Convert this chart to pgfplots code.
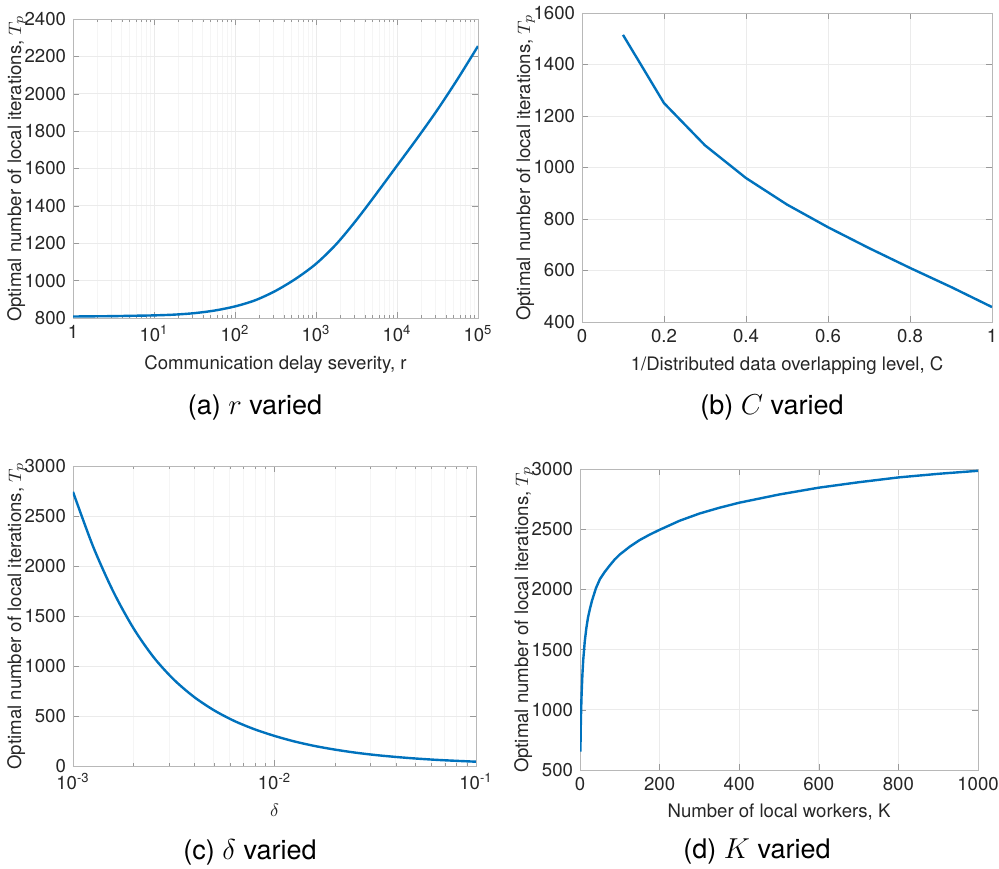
\documentclass[border=0pt]{standalone}
\usepackage{pgfplots}
\pgfplotsset{compat=1.18}
\usepackage{fontspec}
\setmainfont{TeX Gyre Heros}
\definecolor{mblue}{RGB}{0,114,189}
\definecolor{tickgray}{RGB}{38,38,38}

\pgfplotsset{
  mstyle/.style={
    scale only axis,
    axis line style={black!28},
    tick style={black!40},
    tick align=inside,
    major tick length=3pt,
    minor tick length=1.6pt,
    grid=major,
    major grid style={black!8},
    minor grid style={black!4},
    ticklabel style={font=\fontsize{9.3}{11}\selectfont, text=tickgray},
    label style={font=\fontsize{9.3}{11}\selectfont, text=tickgray},
    /pgf/number format/assume math mode=true,
    /pgf/number format/set thousands separator={},
    ylabel={Optimal number of local iterations, $T_p$},
    ylabel shift=-7.5pt,
  },
  curve/.style={mblue, line width=1.2pt, no marks},
}

\begin{document}
\begin{tikzpicture}
\path[use as bounding box] (0,0) rectangle (499.5pt,434pt);

% (a) r varied
\begin{axis}[mstyle,
  at={(36.5pt,275pt)}, anchor=south west,
  width=202.5pt, height=149.5pt,
  xmode=log, xmin=1, xmax=1e5,
  ymin=800, ymax=2400, ytick={800,1000,...,2400},
  xtick={1,10,100,1000,10000,100000},
  xticklabels={1,10\textsuperscript{1},10\textsuperscript{2},10\textsuperscript{3},10\textsuperscript{4},10\textsuperscript{5}},
  xminorgrids=true,
  xlabel={Communication delay severity, r},
]
\addplot[curve, smooth] coordinates {
(1,808) (1.778,809) (3.162,810) (5.623,812) (10,814) (17.78,818) (31.62,826)
(56.23,840) (100,862) (177.8,895) (316.2,945) (562.3,1010) (1000,1090)
(1778,1195) (3162,1325) (5623,1468) (10000,1615) (17783,1762) (31623,1915)
(56234,2080) (100000,2255)};
\end{axis}

% (b) C varied
\begin{axis}[mstyle,
  at={(291pt,273pt)}, anchor=south west,
  width=205pt, height=154.5pt,
  xmin=0, xmax=1, xtick={0,0.2,...,1},
  ymin=400, ymax=1600, ytick={400,600,...,1600},
  xlabel={1/Distributed data overlapping level, C},
]
\addplot[curve] coordinates {
(0.1,1515) (0.2,1250) (0.3,1086) (0.4,959) (0.5,856) (0.6,768)
(0.7,687) (0.8,610) (0.9,536) (1.0,458)};
\end{axis}

% (c) delta varied
\begin{axis}[mstyle,
  at={(36.5pt,51pt)}, anchor=south west,
  width=201.5pt, height=150pt,
  xmode=log, xmin=1e-3, xmax=1e-1,
  xtick={0.001,0.01,0.1},
  xticklabels={10\textsuperscript{-3},10\textsuperscript{-2},10\textsuperscript{-1}},
  xminorgrids=true,
  ymin=0, ymax=3000, ytick={0,500,...,3000},
  xlabel={$\delta$},
]
\addplot[curve, smooth] coordinates {
(0.001,2742) (0.0012589,2194) (0.0015849,1744) (0.0019953,1378)
(0.0025119,1088) (0.0031623,865) (0.0039811,692) (0.0050119,557)
(0.0063096,451) (0.0079433,368) (0.01,301) (0.012589,245) (0.015849,200)
(0.019953,164) (0.025119,134) (0.031623,110) (0.039811,91) (0.050119,75)
(0.063096,62) (0.079433,52) (0.1,43)};
\end{axis}

% (d) K varied
\begin{axis}[mstyle,
  at={(290pt,49pt)}, anchor=south west,
  width=199pt, height=150.5pt,
  xmin=0, xmax=1000, xtick={0,200,...,1000},
  ymin=500, ymax=3000, ytick={500,1000,...,3000},
  xlabel={Number of local workers, K},
]
\addplot[curve] coordinates {
(1,653) (2,880) (3,1020) (4,1130) (6,1290) (8,1410) (12,1570) (16,1680)
(20,1765) (25,1840) (30,1905) (40,2010) (50,2085) (62,2145) (75,2200)
(87,2248) (100,2290) (125,2355) (150,2410) (175,2455) (200,2495)
(250,2570) (300,2630) (350,2678) (400,2720) (500,2788) (600,2845)
(700,2890) (800,2930) (900,2960) (1000,2985)};
\end{axis}

% sub-captions
\begin{scope}[every node/.style={font=\fontsize{13.5}{16}\selectfont, text=black}]
\node at (127.5pt,230pt) {(a) $r$ varied};
\node at (386pt,230pt) {(b) $C$ varied};
\node at (125pt,8pt) {(c) $\delta$ varied};
\node at (378.5pt,8pt) {(d) $K$ varied};
\end{scope}
\end{tikzpicture}
\end{document}
